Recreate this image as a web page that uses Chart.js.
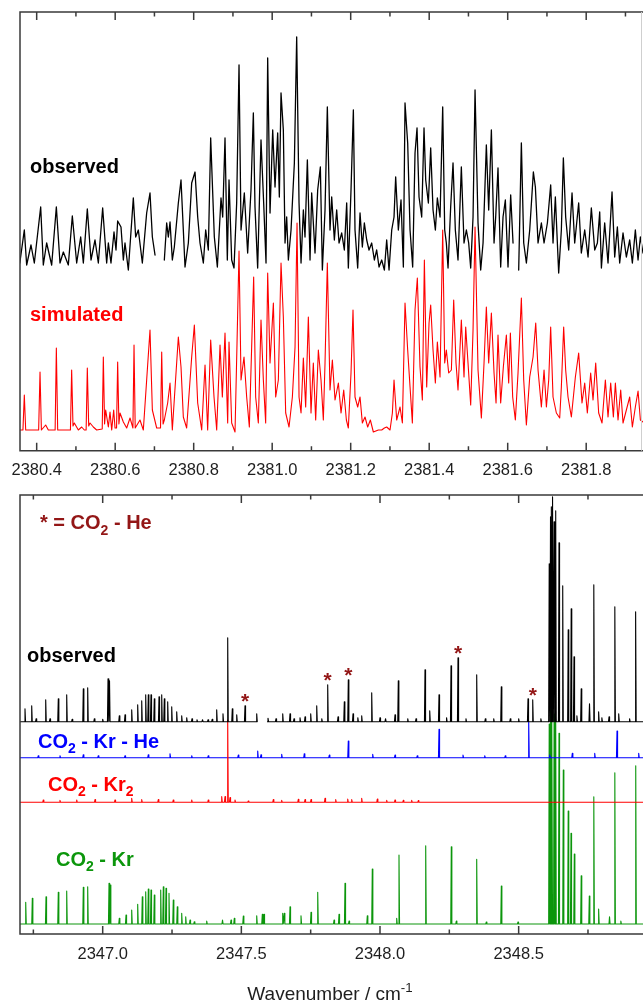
<!DOCTYPE html>
<html>
<head>
<meta charset="utf-8">
<script src="https://cdn.jsdelivr.net/npm/chart.js@4.4.1/dist/chart.umd.min.js"></script>
<style>
  body { margin: 0; background: #fff; }
  .wrap { position: relative; width: 643px; height: 1003px; }
  canvas { position: absolute; left: 0; }
  #topChart { top: 0; }
  #bottomChart { top: 480px; }
</style>
</head>
<body>
<div class="wrap">
  <canvas id="topChart" width="643" height="480"></canvas>
  <canvas id="bottomChart" width="643" height="523"></canvas>
</div>
<script>
// ---- top panel (2380-2382 cm-1) ----
const topRange = [2380.3575, 2381.9447];
const topTicks = [2380.4, 2380.6, 2380.8, 2381.0, 2381.2, 2381.4, 2381.6, 2381.8];
const topMinorTicks = [2380.5, 2380.7, 2380.9, 2381.1, 2381.3, 2381.5, 2381.7, 2381.9];
const topGaps = [2380.713, 2381.621];

const obsTopX = [
  2380.357, 2380.3685, 2380.3745, 2380.3855, 2380.394, 2380.4102, 2380.4169, 2380.4254, 2380.4382, 2380.4501,
  2380.4594, 2380.4679, 2380.4806, 2380.4908, 2380.5019, 2380.5121, 2380.5189, 2380.529, 2380.5384, 2380.5486,
  2380.5571, 2380.5681, 2380.5783, 2380.5826, 2380.5893, 2380.597, 2380.6021, 2380.6063, 2380.6148, 2380.6208,
  2380.625, 2380.6335, 2380.6462, 2380.6522, 2380.659, 2380.6692, 2380.6802, 2380.6887, 2380.6947, 2380.7015,
  2380.7252, 2380.7312, 2380.7354, 2380.7397, 2380.7456, 2380.7507, 2380.7609, 2380.7677, 2380.7736, 2380.7779,
  2380.7864, 2380.7949, 2380.8034, 2380.8102, 2380.8161, 2380.8246, 2380.8306, 2380.8373, 2380.8433, 2380.8526,
  2380.8603, 2380.8696, 2380.8739, 2380.8798, 2380.8857, 2380.89, 2380.8968, 2380.9027, 2380.9095, 2380.9155,
  2380.9206, 2380.929, 2380.9375, 2380.946, 2380.952, 2380.9562, 2380.963, 2380.9715, 2380.9783, 2380.9843,
  2380.9885, 2380.9945, 2381.0013, 2381.0072, 2381.014, 2381.0182, 2381.0225, 2381.0284, 2381.0327, 2381.0369,
  2381.0412, 2381.048, 2381.0565, 2381.0624, 2381.0684, 2381.0735, 2381.0794, 2381.0836, 2381.0896, 2381.0964,
  2381.1006, 2381.1091, 2381.1159, 2381.1227, 2381.1278, 2381.1346, 2381.1405, 2381.1473, 2381.1516, 2381.1584,
  2381.1643, 2381.1703, 2381.1771, 2381.1838, 2381.1898, 2381.194, 2381.2008, 2381.2068, 2381.211, 2381.2178,
  2381.2238, 2381.2297, 2381.2348, 2381.2408, 2381.2467, 2381.2535, 2381.2603, 2381.2662, 2381.2722, 2381.279,
  2381.2858, 2381.2917, 2381.2977, 2381.3045, 2381.3104, 2381.3146, 2381.3214, 2381.3282, 2381.3342, 2381.3384,
  2381.3452, 2381.3512, 2381.3579, 2381.3639, 2381.369, 2381.3741, 2381.3809, 2381.3868, 2381.3911, 2381.3979,
  2381.4038, 2381.4098, 2381.4157, 2381.4208, 2381.4276, 2381.4344, 2381.4395, 2381.4437, 2381.448, 2381.4547,
  2381.4607, 2381.4666, 2381.4734, 2381.4819, 2381.4887, 2381.4947, 2381.5006, 2381.5057, 2381.5117, 2381.5168,
  2381.5244, 2381.5312, 2381.5372, 2381.5456, 2381.5516, 2381.5584, 2381.5652, 2381.5694, 2381.5753, 2381.5821,
  2381.5881, 2381.594, 2381.6008, 2381.6076, 2381.6136,
  2381.628, 2381.6348, 2381.6408, 2381.6476, 2381.6561, 2381.6654, 2381.6705, 2381.6773, 2381.6858, 2381.6926,
  2381.7011, 2381.7095, 2381.7155, 2381.7214, 2381.7299, 2381.7367, 2381.7418, 2381.7477, 2381.7554, 2381.7639,
  2381.7707, 2381.7808, 2381.7876, 2381.7962, 2381.8047, 2381.8131, 2381.8217, 2381.8285, 2381.8344, 2381.8387,
  2381.8471, 2381.8556, 2381.8658, 2381.8726, 2381.8794, 2381.8853, 2381.8938, 2381.9023, 2381.9108, 2381.9176,
  2381.9252, 2381.9321, 2381.938, 2381.9447
];
const obsTopI = [
  11, 44, 9, 29, 11, 67, 9, 31, 9, 67,
  11, 22, 9, 58, 11, 37, 11, 65, 14, 34,
  11, 66, 11, 31, 11, 42, 24, 53, 47, 14,
  31, 4, 76, 37, 44, 11, 61, 81, 37, 19,
  14, 51, 37, 52, 14, 27, 71, 94, 44, 7,
  31, 91, 102, 57, 31, 11, 44, 24, 136, 37,
  7, 76, 57, 136, 14, 94, 14, 6, 71, 209,
  44, 81, 21, 84, 161, 67, 6, 134, 71, 11,
  216, 61, 144, 87, 141, 77, 181, 144, 31, 57,
  14, 44, 111, 237, 71, 11, 64, 37, 114, 14,
  81, 21, 84, 107, 4, 64, 167, 44, 77, 34,
  64, 31, 41, 24, 71, 6, 84, 164, 44, 6,
  61, 27, 51, 34, 24, 31, 14, 24, 7, 14,
  4, 34, 4, 44, 57, 97, 44, 74, 7, 171,
  131, 44, 7, 121, 146, 77, 57, 146, 94, 71,
  126, 64, 44, 76, 57, 167, 44, 31, 6, 67,
  111, 44, 14, 107, 31, 44, 31, 6, 57, 184,
  51, 4, 31, 129, 64, 144, 31, 57, 106, 7,
  57, 74, 7, 79, 31,
  4, 131, 31, 11, 44, 102, 87, 31, 51, 31,
  51, 89, 31, 77, 1, 44, 116, 57, 24, 81,
  31, 71, 21, 44, 17, 66, 24, 31, 62, 6,
  51, 11, 82, 17, 47, 11, 41, 17, 34, 11,
  44, 14, 37, 21
];

const simTopX = [
  2380.357, 2380.365, 2380.3685, 2380.372, 2380.405, 2380.4085, 2380.412, 2380.4229, 2380.4297, 2380.447,
  2380.4501, 2380.4535, 2380.486, 2380.4891, 2380.4925, 2380.4959, 2380.5061, 2380.5146, 2380.5214, 2380.526,
  2380.529, 2380.5325, 2380.5359, 2380.5443, 2380.5528, 2380.567, 2380.5698, 2380.573, 2380.5758, 2380.5826,
  2380.5868, 2380.5911, 2380.5962, 2380.5996, 2380.6035, 2380.6063, 2380.6095, 2380.6123, 2380.6208, 2380.6293,
  2380.6378, 2380.6452, 2380.648, 2380.651, 2380.6632, 2380.6717, 2380.6802, 2380.6887, 2380.6947, 2380.7057,
  2380.7155, 2380.7185, 2380.722, 2380.7252, 2380.7337, 2380.7397, 2380.7456,
  2380.7609, 2380.7677, 2380.7736, 2380.7821, 2380.7949, 2380.8017, 2380.8102,
  2380.8204, 2380.8289, 2380.8356, 2380.8433, 2380.8518, 2380.8586, 2380.8671, 2380.873, 2380.8798, 2380.8866,
  2380.89, 2380.8968, 2380.9053, 2380.9104, 2380.9155, 2380.9206, 2380.9282, 2380.935, 2380.9418, 2380.9477,
  2380.9528, 2380.9579, 2380.9647, 2380.9715, 2380.9775, 2380.9834, 2380.9885, 2380.9945, 2381.003, 2381.0089,
  2381.0157, 2381.0225, 2381.0284, 2381.0344, 2381.0429, 2381.0514, 2381.0582, 2381.0633, 2381.0684, 2381.0735,
  2381.0794, 2381.0853, 2381.0921, 2381.0989, 2381.1048, 2381.1108, 2381.1176, 2381.1244, 2381.1303, 2381.1346,
  2381.1405, 2381.1473, 2381.1533, 2381.1601, 2381.1686, 2381.1754, 2381.1822, 2381.189, 2381.194, 2381.2008,
  2381.2059, 2381.211, 2381.2178, 2381.2238, 2381.2297, 2381.2365, 2381.2433, 2381.2501, 2381.2577, 2381.2705,
  2381.279, 2381.2858, 2381.2917, 2381.3002, 2381.3062, 2381.3104, 2381.3172, 2381.3257, 2381.3317, 2381.3384,
  2381.3452, 2381.3512, 2381.3571, 2381.3639, 2381.3698, 2381.3766, 2381.3826, 2381.3877, 2381.3936, 2381.3996,
  2381.4038, 2381.4098, 2381.4157, 2381.4208, 2381.4276, 2381.4344, 2381.4395, 2381.4437, 2381.4497, 2381.4565,
  2381.4624, 2381.4683, 2381.4734, 2381.4819, 2381.4887, 2381.493, 2381.4989, 2381.5057, 2381.5117, 2381.5168,
  2381.5244, 2381.5329, 2381.5397, 2381.5456, 2381.5516, 2381.5584, 2381.5652, 2381.5703, 2381.5753, 2381.5821,
  2381.5889, 2381.5966, 2381.6025, 2381.6068, 2381.6127, 2381.6195, 2381.6263, 2381.6348, 2381.6408, 2381.6476,
  2381.6561, 2381.6646, 2381.6714, 2381.6773, 2381.6858, 2381.6926, 2381.6986, 2381.7045, 2381.7095, 2381.7155,
  2381.724, 2381.7325, 2381.7367, 2381.7426, 2381.7477, 2381.7537, 2381.7622, 2381.7724, 2381.7808, 2381.7893,
  2381.7962, 2381.8029, 2381.8114, 2381.8174, 2381.8242, 2381.8318, 2381.8403, 2381.8488, 2381.8556, 2381.8624,
  2381.8692, 2381.8743, 2381.8811, 2381.8879, 2381.8938, 2381.9023, 2381.9108, 2381.9176, 2381.9252, 2381.9321,
  2381.938, 2381.9447
];
const simTopI = [
  2, 2, 37, 2, 2, 60, 2, 7, 2, 2,
  84, 2, 2, 62, 6, 9, 2, 5, 2, 2,
  64, 6, 9, 5, 2, 3, 75, 8, 22, 5,
  20, 2, 22, 4, 4, 70, 8, 19, 10, 4,
  14, 4, 87, 4, 12, 2, 52, 102, 22, 4,
  4, 80, 8, 12, 29, 49, 2,
  95, 65, 15, 4, 75, 107, 29,
  2, 67, 2, 92, 35, 2, 87, 35, 99, 9,
  90, 9, 0, 89, 181, 52, 75, 35, 5, 85,
  155, 35, 9, 112, 52, 9, 159, 69, 129, 35,
  52, 169, 115, 19, 5, 35, 85, 209, 35, 19,
  74, 25, 115, 19, 69, 12, 82, 52, 12, 69,
  169, 42, 72, 32, 49, 19, 42, 12, 4, 59,
  122, 35, 25, 35, 9, 15, 5, 12, 0, 2,
  2, 4, 5, 2, 19, 52, 12, 25, 9, 129,
  82, 45, 9, 122, 154, 65, 32, 172, 45, 109,
  127, 82, 49, 90, 55, 202, 69, 82, 59, 62,
  132, 69, 42, 112, 55, 105, 69, 27, 102, 205,
  62, 14, 69, 125, 69, 119, 59, 29, 97, 29,
  65, 97, 49, 99, 35, 12, 59, 134, 52, 7,
  55, 75, 109, 62, 25, 62, 25, 52, 105, 35,
  19, 14, 45, 105, 62, 35, 15, 55, 79, 29,
  49, 19, 59, 32, 69, 19, 9, 52, 15, 49,
  15, 49, 12, 42, 9, 22, 35, 5, 25, 41,
  12, 10
];
const obsTopOffset = 176.7;
const simTopOffset = 18.7;

// ---- bottom panel (2347-2349 cm-1) ----
const botRange = [2346.7018, 2348.9484];
const botTicks = [2347.0, 2347.5, 2348.0, 2348.5];
const botMinorTicks = [2346.75, 2347.25, 2347.75, 2348.25, 2348.75];
const botGaps = [2347.576];

const obsBotX = [
  2346.7198, 2346.744, 2346.76, 2346.7945, 2346.81, 2346.8399, 2346.8702, 2346.89, 2346.9301, 2346.9459,
  2346.97, 2347.0, 2347.0192, 2347.0246, 2347.0599, 2347.0805, 2347.1046, 2347.1262, 2347.1407, 2347.1551,
  2347.1645, 2347.1742, 2347.1861, 2347.2031, 2347.2128, 2347.2222, 2347.2344, 2347.2489, 2347.2669, 2347.2849,
  2347.3029, 2347.3221, 2347.34, 2347.36, 2347.38, 2347.395, 2347.4111, 2347.4338, 2347.4508, 2347.4674,
  2347.4833, 2347.5132, 2347.5554, 2347.5961, 2347.625, 2347.6492, 2347.6755, 2347.69, 2347.7115, 2347.7296,
  2347.7501, 2347.7718, 2347.79, 2347.8114, 2347.8486, 2347.8713, 2347.8857, 2347.9027, 2347.92, 2347.934,
  2347.9701, 2348.0, 2348.02, 2348.0541, 2348.066, 2348.1, 2348.13, 2348.1623, 2348.1793, 2348.2128,
  2348.24, 2348.2561, 2348.2813, 2348.31, 2348.3487, 2348.38, 2348.41, 2348.4374, 2348.47, 2348.5,
  2348.5337, 2348.5507, 2348.58, 2348.6102, 2348.6149, 2348.6189, 2348.6232, 2348.6279, 2348.6336, 2348.6455,
  2348.6589, 2348.6787, 2348.6895, 2348.6996, 2348.71, 2348.7256, 2348.7555, 2348.771, 2348.7884, 2348.8,
  2348.8259, 2348.8468, 2348.8608, 2348.9, 2348.9218
];
const obsBotI = [
  13, 16, 3, 22, 3, 23, 27, 2.5, 33, 34,
  3, 2.5, 43, 41, 6, 7, 12, 17, 21, 27,
  27, 27, 23, 25, 27, 23, 20, 15, 10, 6,
  4, 3, 2, 2, 2, 2.5, 12, 8, 84, 13,
  7, 16, 8, 3.5, 3, 8, 8, 3, 4, 5,
  8, 16, 3, 37, 5, 20, 42, 8, 4, 6,
  29, 4, 3, 7, 41, 3, 3, 52, 11, 27,
  4, 56, 64, 3, 47, 3, 3, 35, 3, 3,
  23, 22, 3, 158, 205, 215, 225, 200, 211, 179,
  136, 92, 113, 65, 6, 33, 18, 137, 10, 4,
  5, 115, 8, 3, 110
];

// CO2-He lines marked with an asterisk in the observed trace
const heLineX = [2347.5132, 2347.8114, 2347.8857, 2348.2813, 2348.5507];
const heLineI = [16, 37, 42, 64, 22];

const krHeX = [
  2346.7678, 2346.846, 2346.9301, 2346.9842, 2347.0805, 2347.1645, 2347.2427, 2347.321, 2347.3808, 2347.489,
  2347.559, 2347.5709, 2347.6455, 2347.727, 2347.8172, 2347.8857, 2347.9737, 2348.0541, 2348.1345, 2348.2128,
  2348.2993, 2348.3776, 2348.4519, 2348.5362, 2348.612, 2348.6935, 2348.7743, 2348.8547, 2348.9329
];
const krHeI = [
  2, 2, 3, 2, 2, 3, 4, 2, 2, 2.7,
  6.7, 3, 3.3, 4, 2.7, 16.7, 3.3, 2.7, 2, 28.3,
  2.7, 2, 2, 36, 2.7, 4.3, 4.3, 26.7, 4.3
];

const kr2X = [
  2346.7858, 2346.846, 2346.9063, 2346.9723, 2347.0444, 2347.1046, 2347.1407, 2347.2005, 2347.2546, 2347.321,
  2347.3808, 2347.4292, 2347.4411, 2347.4508, 2347.4591, 2347.4771, 2347.5251, 2347.6152, 2347.6455, 2347.7054,
  2347.7296, 2347.7512, 2347.8017, 2347.8403, 2347.8836, 2347.898, 2347.934, 2347.9903, 2348.0242, 2348.0541,
  2348.084, 2348.1143, 2348.1381
];
const kr2I = [
  2.3, 2, 2.3, 2.7, 2.3, 4, 2.7, 2.7, 2.3, 2.3,
  2.3, 5.7, 5.7, 82.3, 4.7, 2.3, 1.3, 2.7, 2, 3,
  2.7, 2.7, 4, 2.7, 3.3, 2.7, 4, 3.3, 2, 2.3,
  2, 2, 1.7
];

const krX = [
  2346.7224, 2346.7462, 2346.7956, 2346.8399, 2346.8702, 2346.9301, 2346.9459, 2347.0228, 2347.0274, 2347.0599,
  2347.0841, 2347.1046, 2347.1262, 2347.1428, 2347.1551, 2347.1645, 2347.1742, 2347.1861, 2347.2092, 2347.2186,
  2347.2283, 2347.2391, 2347.2546, 2347.269, 2347.2849, 2347.2994, 2347.3149, 2347.3304, 2347.3751, 2347.4321,
  2347.4627, 2347.4746, 2347.5071, 2347.5554, 2347.5756, 2347.5817, 2347.6492, 2347.6549, 2347.6755, 2347.7151,
  2347.7512, 2347.7754, 2347.8342, 2347.8522, 2347.8738, 2347.8883, 2347.9542, 2347.9722, 2348.0602, 2348.0685,
  2348.1648, 2348.2571, 2348.2752, 2348.3487, 2348.3834, 2348.4375, 2348.4977, 2348.6102, 2348.6152, 2348.6202,
  2348.6279, 2348.6336, 2348.6455, 2348.661, 2348.6787, 2348.6888, 2348.7007, 2348.7256, 2348.7548, 2348.771,
  2348.7884, 2348.8277, 2348.8468, 2348.8685, 2348.9222
];
const krI = [
  21.7, 25.7, 27.3, 31.7, 33, 36.7, 37.3, 40.7, 39, 5.7,
  9, 14, 19.7, 27.3, 32.3, 35, 34, 29, 34, 37.3,
  35.7, 30.7, 24, 17.3, 10.7, 7.3, 4, 2.3, 3, 4,
  4, 5.7, 8, 8.3, 9.7, 9.7, 10.7, 10.7, 17.3, 8.3,
  11.7, 31.7, 4, 9.7, 40.7, 3, 8.3, 55, 5.7, 69,
  78.3, 77.3, 3, 64.7, 2, 38, 2, 200, 216, 218,
  210, 205, 190.7, 154, 113, 90.7, 70, 48.3, 28, 127.3,
  15, 7.3, 151.3, 3, 158.3
];

const obsBotOffset = 212.3;
const krHeOffset = 176.3;
const kr2Offset = 131.7;
const krOffset = 10;

// ---- helpers ----
const FONT = '"Liberation Sans", Arial, sans-serif';

const trace = (xs, ys, off, gaps) =>
  xs.map((x, i) => ({ x, y: off + ys[i] }))
    .concat((gaps || []).map(g => ({ x: g, y: null })))
    .sort((a, b) => a.x - b.x);

const sticks = (xs, ys, off, range, gaps) => {
  const hw = 0.002;
  const pts = [{ x: range[0], y: off }, { x: range[1], y: off }];
  xs.forEach((x, i) => {
    pts.push({ x: x - hw, y: off }, { x, y: off + ys[i] }, { x: x + hw, y: off });
  });
  (gaps || []).forEach(g => pts.push({ x: g, y: null }));
  return pts.sort((a, b) => a.x - b.x);
};

function drawRich(ctx, t) {
  const pieces = t.parts.map(p => {
    const small = p.sub || p.sup;
    const font = `${t.weight || "bold"} ${small ? t.size * 0.7 : t.size}px ${FONT}`;
    ctx.font = font;
    return { ...p, font, w: ctx.measureText(p.t).width };
  });
  const total = pieces.reduce((s, p) => s + p.w, 0);
  let cx = t.align === "center" ? t.x - total / 2 : t.x;
  ctx.textAlign = "left";
  ctx.textBaseline = "alphabetic";
  ctx.fillStyle = t.color;
  pieces.forEach(p => {
    ctx.font = p.font;
    const dy = p.sub ? t.size * 0.27 : p.sup ? -t.size * 0.42 : 0;
    ctx.fillText(p.t, cx, t.y + dy);
    cx += p.w;
  });
}

const framePlugin = {
  id: "frame",
  afterDraw(chart, args, o) {
    const { ctx, chartArea: a } = chart;
    const xs = chart.scales.x;
    const ys = chart.scales.y;
    ctx.save();

    // frame (right side is cut by the picture edge)
    ctx.lineWidth = 1.5;
    ctx.strokeStyle = "#3a3a3a";
    ctx.beginPath();
    ctx.moveTo(a.right, a.top);
    ctx.lineTo(a.left, a.top);
    ctx.lineTo(a.left, a.bottom);
    ctx.lineTo(a.right, a.bottom);
    ctx.stroke();

    // inward ticks on top and bottom
    ctx.beginPath();
    const mark = (v, len) => {
      const p = xs.getPixelForValue(v);
      ctx.moveTo(p, a.bottom);
      ctx.lineTo(p, a.bottom - len);
      ctx.moveTo(p, a.top);
      ctx.lineTo(p, a.top + len);
    };
    o.major.forEach(v => mark(v, 8));
    o.minor.forEach(v => mark(v, 4.5));
    ctx.stroke();

    if (o.rightEdge) {
      ctx.lineWidth = 1;
      ctx.strokeStyle = "#cfcfcf";
      ctx.beginPath();
      ctx.moveTo(a.right - 1.5, a.top);
      ctx.lineTo(a.right - 1.5, a.bottom);
      ctx.stroke();
    }

    // tick labels
    ctx.fillStyle = "#1e1e1e";
    ctx.font = `16.5px ${FONT}`;
    ctx.textAlign = "center";
    ctx.textBaseline = "alphabetic";
    o.major.forEach(v => ctx.fillText(v.toFixed(1), xs.getPixelForValue(v), a.bottom + 24.5));

    // asterisks over CO2-He lines
    if (o.stars) {
      ctx.fillStyle = "#931616";
      ctx.font = `bold 21px ${FONT}`;
      ctx.textAlign = "center";
      const m = ctx.measureText("*");
      const shift = (m.actualBoundingBoxAscent - m.actualBoundingBoxDescent) / 2;
      o.stars.x.forEach((x, i) => {
        const px = xs.getPixelForValue(x);
        const py = ys.getPixelForValue(o.stars.offset + o.stars.y[i]) - 8;
        ctx.fillText("*", px, py + shift);
      });
    }

    (o.texts || []).forEach(t => drawRich(ctx, t));
    ctx.restore();
  }
};

function makeChart(id, datasets, range, ymax, padding, frame) {
  return new Chart(document.getElementById(id), {
    type: "line",
    data: { datasets },
    options: {
      responsive: false,
      animation: false,
      devicePixelRatio: 1,
      layout: { padding },
      elements: { point: { radius: 0 }, line: { tension: 0 } },
      scales: {
        x: { type: "linear", min: range[0], max: range[1], display: false },
        y: { min: 0, max: ymax, display: false }
      },
      plugins: { legend: { display: false }, tooltip: { enabled: false }, frame }
    },
    plugins: [framePlugin]
  });
}

const line = (data, color, width) => ({
  data, borderColor: color, borderWidth: width, pointRadius: 0, spanGaps: false, fill: false,
  borderJoinStyle: "round", borderCapStyle: "round"
});

makeChart(
  "topChart",
  [
    line(trace(obsTopX, obsTopI, obsTopOffset, topGaps), "#000000", 1.3),
    line(trace(simTopX, simTopI, simTopOffset), "#ff0000", 1.1)
  ],
  topRange, 438.7,
  { left: 20, top: 12, right: 0, bottom: 29.3 },
  {
    major: topTicks, minor: topMinorTicks, rightEdge: true,
    texts: [
      { parts: [{ t: "observed" }], x: 30, y: 172.5, size: 20, color: "#000000" },
      { parts: [{ t: "simulated" }], x: 30, y: 320.5, size: 20, color: "#ff0000" }
    ]
  }
);

makeChart(
  "bottomChart",
  [
    line(sticks(obsBotX, obsBotI, obsBotOffset, botRange, botGaps), "#000000", 1.1),
    line(sticks(kr2X, kr2I, kr2Offset, botRange), "#ff0000", 1.1),
    line(sticks(krHeX, krHeI, krHeOffset, botRange), "#0000ff", 1.1),
    line(sticks(krX, krI, krOffset, botRange), "#0c960c", 1.1)
  ],
  botRange, 439,
  { left: 20, top: 15, right: 0, bottom: 69 },
  {
    major: botTicks, minor: botMinorTicks,
    stars: { x: heLineX, y: heLineI, offset: obsBotOffset },
    texts: [
      { parts: [{ t: "* = CO" }, { t: "2", sub: true }, { t: " - He" }], x: 40, y: 49.3, size: 20, color: "#931616" },
      { parts: [{ t: "observed" }], x: 27, y: 181.7, size: 20, color: "#000000" },
      { parts: [{ t: "CO" }, { t: "2", sub: true }, { t: " - Kr - He" }], x: 38, y: 267.7, size: 20, color: "#0000ff" },
      { parts: [{ t: "CO" }, { t: "2", sub: true }, { t: " - Kr" }, { t: "2", sub: true }], x: 48, y: 311, size: 20, color: "#ff0000" },
      { parts: [{ t: "CO" }, { t: "2", sub: true }, { t: " - Kr" }], x: 56, y: 386, size: 20, color: "#0c960c" },
      { parts: [{ t: "Wavenumber / cm" }, { t: "-1", sup: true }], x: 330, y: 520, size: 19, weight: "normal", align: "center", color: "#1e1e1e" }
    ]
  }
);
</script>
</body>
</html>
